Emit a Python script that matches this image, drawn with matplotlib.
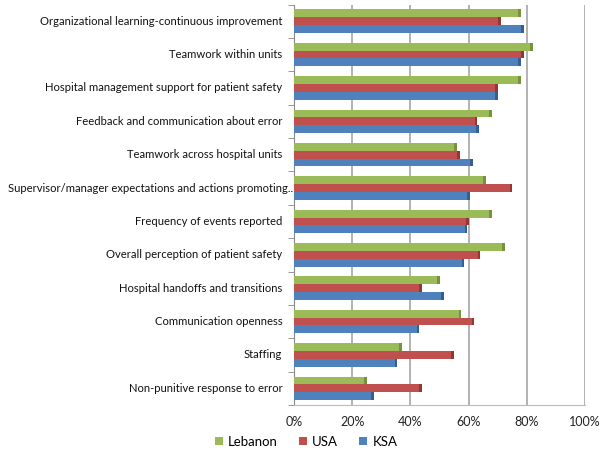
import numpy as np
import matplotlib.pyplot as plt
import matplotlib.transforms as mtransforms
from matplotlib.ticker import FuncFormatter

plt.rcParams['font.family'] = ['Lato', 'DejaVu Sans']

# ---- data (top to bottom) ----
categories = [
    "Organizational learning-continuous improvement",
    "Teamwork within units",
    "Hospital management support for patient safety",
    "Feedback and communication about error",
    "Teamwork across hospital units",
    "Supervisor/manager expectations and actions promoting..",
    "Frequency of events reported",
    "Overall perception of patient safety",
    "Hospital handoffs and transitions",
    "Communication openness",
    "Staffing",
    "Non-punitive response to error",
]
lebanon = [78, 82, 78, 68, 56, 66, 68, 72.5, 50, 57.5, 37, 25]
usa = [71, 79, 70, 63, 57, 75, 60, 64, 44, 62, 55, 44]
ksa = [79, 78, 70, 63.5, 61.5, 60.5, 59.5, 58.5, 51.5, 43, 35.5, 27.5]

series = [("Lebanon", lebanon, "#9BBB59", "#76923C"),
          ("USA", usa, "#C0504D", "#943634"),
          ("KSA", ksa, "#4F81BD", "#365F91")]

fig = plt.figure(figsize=(6, 4.5), dpi=100)
ax = fig.add_axes([0.49, 0.10, 0.485, 0.89])

n = len(categories)
y = np.arange(n)[::-1].astype(float)
h = 0.235
offsets = [h, 0, -h]

for (name, vals, col, dark), off in zip(series, offsets):
    vals = np.array(vals, dtype=float)
    ax.barh(y + off, vals, height=h, color=col, label=name, zorder=3)
    # darker end cap to hint the 3D look
    ax.barh(y + off, np.full(n, 0.9), left=vals - 0.9, height=h,
            color=dark, zorder=4)

ax.set_xlim(0, 100)
ax.set_ylim(-0.5, n - 0.5)
ax.set_xticks(np.arange(0, 101, 20))
ax.xaxis.set_major_formatter(FuncFormatter(lambda v, p: f"{v:.0f}%"))
ax.set_yticks([])
ax.set_yticks(np.arange(-0.5, n, 1.0), minor=True)
ax.tick_params(axis='y', which='minor', length=4, color='#888888')
ax.tick_params(axis='x', length=0, pad=8, labelsize=9, colors='#222222')

# category labels, right aligned just left of the axis
trans = mtransforms.blended_transform_factory(ax.transAxes, ax.transData)
for yy, lab in zip(y, categories):
    long = lab.startswith("Supervisor")
    ax.text(-0.004 if long else -0.04, yy, lab, transform=trans,
            ha='right', va='center', fontsize=8.1, color='#111111')

ax.grid(axis='x', color='#a6a6a6', linewidth=1.2, zorder=0)
for s in ['top', 'right']:
    ax.spines[s].set_visible(False)
ax.spines['left'].set_color('#888888')
ax.spines['bottom'].set_color('#bbbbbb')

fig.legend(loc='center', bbox_to_anchor=(0.51, 0.018), ncol=3,
           frameon=False, fontsize=9.5, handlelength=0.6, handleheight=0.6,
           columnspacing=1.6, handletextpad=0.4, borderpad=0)

fig.savefig("out.png", dpi=100)
